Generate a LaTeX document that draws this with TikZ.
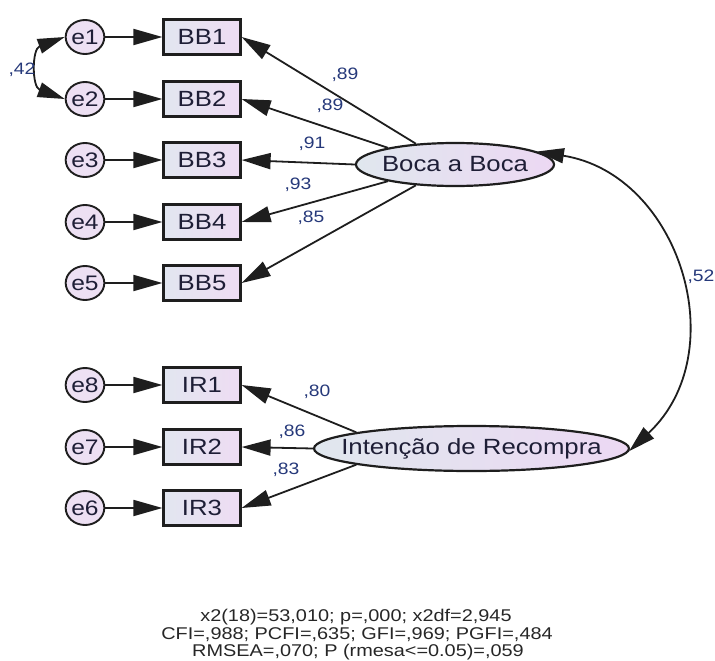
\documentclass[tikz,border=0pt]{standalone}
\usepackage{fontspec}
\setmainfont{Liberation Sans}[FakeStretch=1.17]
\usetikzlibrary{shapes.geometric,arrows.meta}
\definecolor{errfill}{HTML}{EDE0F3}
\definecolor{obsL}{HTML}{E2E6F0}
\definecolor{obsR}{HTML}{EEDCF3}
\definecolor{latL}{HTML}{E0E7EE}
\definecolor{latR}{HTML}{ECD8F3}
\definecolor{nodetext}{HTML}{1E1E36}
\definecolor{coefcol}{HTML}{26397A}
\definecolor{edge}{HTML}{1E1E1E}
\tikzset{
  err/.style={ellipse, draw=edge, line width=1.9pt, fill=errfill, minimum width=38pt,
    minimum height=34pt, inner sep=0pt, font=\fontsize{21}{21}\selectfont, text=nodetext},
  obs/.style={rectangle, draw=edge, line width=2.2pt, left color=obsL, right color=obsR,
    minimum width=77pt, minimum height=35pt, inner sep=0pt,
    font=\fontsize{22}{22}\selectfont, text=nodetext},
  lat/.style={ellipse, draw=edge, line width=2.2pt, left color=latL, right color=latR,
    inner sep=0pt, font=\fontsize{22}{22}\selectfont, text=nodetext},
  pth/.style={line width=1.8pt, draw=edge, -{Triangle[length=29pt,width=16pt]}},
  cov/.style={line width=1.8pt, draw=edge,
    {Triangle[length=27pt,width=15pt]}-{Triangle[length=27pt,width=15pt]}},
  coef/.style={font=\fontsize{16.5}{16.5}\selectfont, text=coefcol, inner sep=0pt},
  fit/.style={font=\fontsize{17}{18}\selectfont, text=black!85, inner sep=0pt, anchor=base}
}
\begin{document}
\begin{tikzpicture}[x=1pt,y=1pt]
\useasboundingbox (0,0) rectangle (715,-661);
% error terms
\node[err] (e1) at (85,-37) {e1};
\node[err] (e2) at (85,-99) {e2};
\node[err] (e3) at (85,-160) {e3};
\node[err] (e4) at (85,-222) {e4};
\node[err] (e5) at (85,-283) {e5};
\node[err] (e8) at (85,-385) {e8};
\node[err] (e7) at (85,-447) {e7};
\node[err] (e6) at (85,-508) {e6};
% observed
\node[obs] (bb1) at (202,-37) {BB1};
\node[obs] (bb2) at (202,-99) {BB2};
\node[obs] (bb3) at (202,-160) {BB3};
\node[obs] (bb4) at (202,-222) {BB4};
\node[obs] (bb5) at (202,-283) {BB5};
\node[obs] (ir1) at (202,-385) {IR1};
\node[obs] (ir2) at (202,-447) {IR2};
\node[obs] (ir3) at (202,-508) {IR3};
% latent
\node[lat, minimum width=198pt, minimum height=43pt] (boca) at (455,-164.5) {\makebox[0pt]{Boca a Boca}};
\node[lat, minimum width=315pt, minimum height=45pt] (intr) at (471.5,-448.5) {\makebox[0pt]{Intenção de Recompra}};
% error paths
\draw[pth] (e1) -- (bb1);
\draw[pth] (e2) -- (bb2);
\draw[pth] (e3) -- (bb3);
\draw[pth] (e4) -- (bb4);
\draw[pth] (e5) -- (bb5);
\draw[pth] (e8) -- (ir1);
\draw[pth] (e7) -- (ir2);
\draw[pth] (e6) -- (ir3);
% loadings
\draw[pth] (boca.152) -- (bb1.east);
\draw[pth] (boca.166) -- (bb2.east);
\draw[pth] (boca.180) -- (bb3.east);
\draw[pth] (boca.194) -- (bb4.east);
\draw[pth] (boca.208) -- (bb5.east);
\draw[pth] (intr.172) -- (ir1.east);
\draw[pth] (intr.180) -- (ir2.east);
\draw[pth] (intr.188) -- (ir3.east);
% covariances
\draw[cov] (e1.west) to[out=200,in=160,looseness=1.45] (e2.west);
\draw[cov] (boca.9) to[out=-9,in=43,looseness=1.18] (intr.359);
% coefficients
\node[coef] (c1) at (345,-75) {,89};
\node[coef] (c2) at (330,-106) {,89};
\node[coef] (c3) at (312,-144) {,91};
\node[coef] (c4) at (298,-185) {,93};
\node[coef] (c5) at (311,-218) {,85};
\node[coef] (c6) at (317,-392) {,80};
\node[coef] (c7) at (292,-432) {,86};
\node[coef] (c8) at (286,-470) {,83};
\node[coef] (c9) at (701,-277) {,52};
\node[coef] (c10) at (22,-70) {,42};
% fit statistics
\node[fit] (f1) at (356,-621) {x2(18)=53,010; p=,000; x2df=2,945};
\node[fit] (f2) at (357,-639) {CFI=,988; PCFI=,635; GFI=,969; PGFI=,484};
\node[fit] (f3) at (358,-656.5) {RMSEA=,070; P (rmesa<=0.05)=,059};
\end{tikzpicture}
\end{document}
